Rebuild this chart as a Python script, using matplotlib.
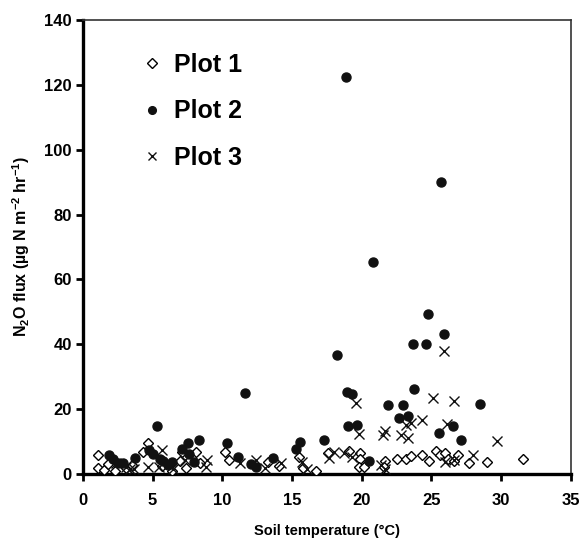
import matplotlib
matplotlib.use("Agg")
import matplotlib.pyplot as plt
from matplotlib import font_manager as fm

names = {f.name for f in fm.fontManager.ttflist}
fam = "Liberation Sans Narrow" if "Liberation Sans Narrow" in names else "Liberation Sans"
plt.rcParams["font.family"] = [fam, "DejaVu Sans"]
plt.rcParams["font.weight"] = "bold"
plt.rcParams["mathtext.default"] = "regular"

# Plot 1 (open diamonds)
p1_x = [1.1, 1.1, 1.5, 2.3, 1.8, 3.1, 3.5, 4.7, 4.35, 5.7, 6.4, 7.1, 7.0, 7.4, 8.1, 8.4,
        10.2, 10.5, 13.3, 14.1, 15.5, 15.8, 16.7, 17.6, 19.1, 19.9, 19.9, 19.8, 20.2,
        21.7, 21.6, 22.5, 23.2, 23.5, 24.3, 24.8, 25.3, 25.6, 26.0, 26.2, 26.6, 26.9,
        27.7, 29.0, 31.6]
p1_y = [5.9, 1.9, 1.2, 0.8, 3.1, 1.9, 2.8, 9.7, 6.9, 2.5, 0.9, 6.9, 4.0, 1.9, 6.9, 3.3,
        6.8, 4.3, 3.8, 2.5, 5.3, 1.7, 1.0, 6.6, 7.2, 6.4, 4.5, 2.3, 2.3,
        4.1, 2.3, 4.5, 4.5, 5.6, 5.9, 4.1, 7.0, 5.8, 6.6, 4.7, 3.9, 5.9,
        3.3, 3.7, 4.5]

# Plot 2 (filled circles)
p2_x = [18.85, 25.7, 20.84, 24.72, 25.88, 23.67, 24.58, 18.2, 18.97, 19.33, 23.77,
        21.85, 22.95, 28.5, 22.64, 23.33, 19.0, 19.64, 26.57, 25.56, 27.1, 17.27,
        15.59, 15.28, 20.55, 11.65, 5.3, 8.32, 7.55, 7.1, 10.36, 11.15, 7.65, 4.77,
        5.01, 1.9, 2.18, 2.54, 2.85, 3.74, 5.54, 5.78, 6.38, 6.14, 7.94, 12.06,
        12.45, 13.65]
p2_y = [122.5, 90.2, 65.3, 49.2, 43.2, 40.2, 40.2, 36.7, 25.4, 24.7, 26.3,
        21.3, 21.3, 21.6, 17.4, 17.8, 14.8, 15.1, 14.7, 12.5, 10.4, 10.4,
        10.0, 7.7, 3.9, 25.1, 14.7, 10.4, 9.6, 7.7, 9.5, 5.1, 6.1, 7.4,
        6.1, 5.8, 4.5, 3.5, 3.5, 4.8, 4.7, 4.1, 3.6, 2.7, 3.6, 3.1,
        2.2, 4.8]

# Plot 3 (crosses)
p3_x = [25.9, 25.1, 26.6, 19.6, 24.3, 23.55, 26.1, 23.2, 21.65, 21.5, 19.8, 22.8,
        23.3, 29.7, 28.0, 18.0, 17.65, 18.7, 19.3, 26.0, 26.6, 21.4, 21.7, 15.7,
        16.1, 5.7, 5.5, 4.7, 8.9, 8.8, 3.4, 3.1, 3.7, 7.3, 6.5, 11.3, 12.4, 13.1,
        14.2, 2.4]
p3_y = [37.9, 23.5, 22.6, 22.0, 16.6, 15.8, 15.4, 15.1, 13.4, 12.0, 12.2, 12.0,
        11.0, 10.3, 5.9, 6.9, 5.0, 6.4, 5.3, 3.8, 4.3, 2.8, 1.4, 3.8,
        1.4, 7.4, 2.3, 2.3, 4.3, 2.3, 1.4, 2.0, 1.4, 4.3, 1.4, 3.3, 4.3, 1.7,
        3.3, 3.3]

x_ticks = [0, 5, 10, 15, 20, 25, 30, 35]
y_ticks = [0, 20, 40, 60, 80, 100, 120, 140]

fig = plt.figure(figsize=(5.79, 5.42), dpi=100)
ax = fig.add_axes([0.143, 0.1255, 0.843, 0.8375])

ax.plot(p1_x, p1_y, linestyle="none", marker="D", markersize=5.5, markerfacecolor="white",
        markeredgecolor="black", markeredgewidth=1.0, label="Plot 1", zorder=3)
ax.plot(p2_x, p2_y, linestyle="none", marker="o", markersize=6.5, markerfacecolor="#111111",
        markeredgecolor="#111111", label="Plot 2", zorder=4)
ax.plot(p3_x, p3_y, linestyle="none", marker="x", markersize=7, markeredgecolor="#111111",
        markeredgewidth=1.0, label="Plot 3", zorder=5)

ax.set_xlim(0, 35)
ax.set_ylim(0, 140)
ax.set_xticks(x_ticks)
ax.set_yticks(y_ticks)
ax.tick_params(axis="both", direction="out", length=5, width=2, labelsize=12)
ax.tick_params(axis="x", pad=9)
ax.tick_params(axis="y", pad=3)
for lab in ax.get_xticklabels() + ax.get_yticklabels():
    lab.set_fontweight("bold")

for s in ["left", "bottom"]:
    ax.spines[s].set_linewidth(2.4)
for s in ["top", "right"]:
    ax.spines[s].set_linewidth(1.2)
    ax.spines[s].set_color("#333333")

ax.set_xlabel("Soil temperature (°C)", fontsize=10.5, fontweight="bold", labelpad=11)
ax.set_ylabel(r"N$_2$O flux (µg N m$^{-2}$ hr$^{-1}$)", fontsize=11.5, fontweight="bold", labelpad=9)

leg = ax.legend(loc="upper left", bbox_to_anchor=(0.09, 0.95), frameon=False,
                borderaxespad=0,
                prop={"size": 18, "weight": "bold"}, labelspacing=0.9,
                handletextpad=0.3, handlelength=1.2, markerscale=0.85)

fig.savefig("out.png", dpi=100)
